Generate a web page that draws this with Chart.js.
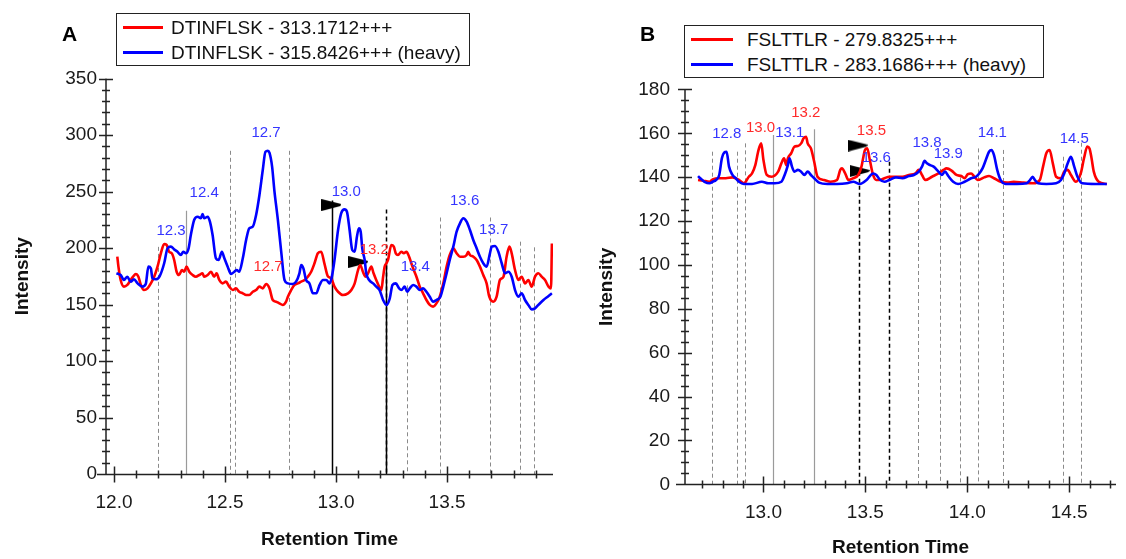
<!DOCTYPE html>
<html>
<head>
<meta charset="utf-8">
<script src="https://cdn.jsdelivr.net/npm/chart.js"></script>
<style>
  body { margin:0; width:1126px; height:559px; background:#fff; position:relative; overflow:hidden; font-family:'Liberation Sans', Arial, sans-serif; }
  canvas { position:absolute; top:0; }
  #cA { left:0; }
  #cB { left:563px; }
  .panel { position:absolute; font-weight:bold; font-size:21px; color:#000; }
  .legend { position:absolute; border:1px solid #222; background:#fff; font-size:19px; color:#111; box-sizing:border-box; padding-top:1px; }
  .legend div { position:relative; height:25px; line-height:25px; white-space:nowrap; }
  .legend span { position:absolute; top:11px; height:3px; }
</style>
</head>
<body>
<canvas id="cA" width="563" height="559"></canvas>
<canvas id="cB" width="563" height="559"></canvas>

<div class="panel" style="left:62px;top:22px;">A</div>
<div class="panel" style="left:640px;top:22px;">B</div>

<div class="legend" style="left:116px;top:13px;width:354px;height:53px;">
  <div style="padding-left:54px;"><span style="left:6px;width:40px;background:#ff0000;"></span>DTINFLSK - 313.1712+++</div>
  <div style="padding-left:54px;"><span style="left:6px;width:40px;background:#0000ff;"></span>DTINFLSK - 315.8426+++ (heavy)</div>
</div>
<div class="legend" style="left:684px;top:25px;width:360px;height:53px;">
  <div style="padding-left:62px;"><span style="left:6px;width:42px;background:#ff0000;"></span>FSLTTLR - 279.8325+++</div>
  <div style="padding-left:62px;"><span style="left:6px;width:42px;background:#0000ff;"></span>FSLTTLR - 283.1686+++ (heavy)</div>
</div>

<script>
// ---- panel A : DTINFLSK ----
// [retention time, intensity]
const aLight = [[12.015,192.3],[12.020,183.5],[12.030,171.7],[12.045,165.8],[12.060,167.3],[12.075,171.7],[12.086,174.6],[12.098,177],[12.110,174.6],[12.121,167.3],
  [12.135,162.8],[12.151,164.3],[12.166,168.7],[12.181,174.6],[12.196,183.5],[12.211,195.3],[12.226,203.5],[12.237,202.7],[12.248,196.7],[12.260,195.3],
  [12.271,189.4],[12.282,179],[12.293,176.1],[12.306,180.5],[12.316,179],[12.327,183.5],[12.339,179],[12.354,176.1],[12.369,174.6],[12.384,176.1],
  [12.399,177.6],[12.406,174.6],[12.422,176.1],[12.437,179],[12.451,174.6],[12.462,177.6],[12.474,171.7],[12.489,168.7],[12.504,170.2],[12.519,165.8],
  [12.535,162.8],[12.549,164.3],[12.564,161.3],[12.580,159.9],[12.595,158.4],[12.609,158.4],[12.625,161.3],[12.640,162.8],[12.655,165.8],[12.670,164.3],
  [12.685,168.1],[12.700,164.3],[12.715,154],[12.730,152.5],[12.745,151],[12.760,149.6],[12.775,152.5],[12.783,156.9],[12.798,162.8],[12.813,167.3],
  [12.828,168.7],[12.843,170.2],[12.858,171.7],[12.873,174.6],[12.888,179],[12.903,186.5],[12.918,195.3],[12.933,196.7],[12.948,186],[12.963,175],
  [12.978,173.2],[12.993,165.8],[13.009,161.3],[13.031,158.4],[13.054,159.9],[13.069,162.8],[13.084,168.7],[13.099,180.5],[13.109,185],[13.121,179],
  [13.133,174.6],[13.144,177.6],[13.159,183.5],[13.169,177.6],[13.181,171.7],[13.194,165.8],[13.204,162.8],[13.212,174.6],[13.219,183.5],[13.227,186.5],
  [13.234,189.4],[13.249,202.7],[13.260,201.2],[13.269,195.3],[13.279,193.8],[13.294,196.7],[13.305,195.3],[13.317,196.7],[13.329,192.3],[13.339,186.5],
  [13.350,180.5],[13.362,174.6],[13.377,165.8],[13.392,159.9],[13.407,154],[13.422,149.6],[13.437,148.1],[13.452,151],[13.467,156.9],[13.483,168.7],
  [13.498,183.5],[13.512,193.8],[13.528,199.7],[13.543,195.3],[13.558,192.3],[13.573,192.3],[13.588,193.8],[13.595,196.7],[13.603,193.8],[13.618,192.3],
  [13.633,189.4],[13.648,183.5],[13.663,176.1],[13.678,168.7],[13.690,156.9],[13.708,152.5],[13.723,156.9],[13.738,171.7],[13.754,174.6],[13.768,192.3],
  [13.781,201.2],[13.791,195.3],[13.806,180.5],[13.821,171.7],[13.836,174.6],[13.851,168.7],[13.866,171.7],[13.881,165.8],[13.896,174.6],[13.911,177.6],
  [13.926,174.6],[13.941,171.7],[13.957,165.8],[13.968,164.3],[13.972,204]];

const aHeavy = [[12.011,177.6],[12.030,176.1],[12.045,171.7],[12.060,174.6],[12.075,170.2],[12.090,172.3],[12.106,168.7],[12.128,165.8],[12.143,168.1],[12.155,183.5],
  [12.166,182],[12.173,173.2],[12.188,172.3],[12.206,175.2],[12.226,186.5],[12.241,199.7],[12.256,201.2],[12.271,198.8],[12.286,196.7],[12.301,193.8],
  [12.312,196.7],[12.324,195.3],[12.336,199.7],[12.346,211.5],[12.361,224.8],[12.377,227.7],[12.391,226.3],[12.399,230.1],[12.406,226.3],[12.422,227.7],
  [12.432,223.3],[12.444,211.5],[12.459,190.9],[12.471,189.4],[12.486,196.7],[12.497,190.9],[12.512,183.5],[12.527,177],[12.542,179],[12.553,180.5],
  [12.564,179],[12.580,190.9],[12.595,207],[12.609,217.4],[12.625,218.9],[12.640,229.2],[12.655,246.9],[12.670,269],[12.682,285.2],[12.693,286.1],
  [12.700,284.3],[12.712,272],[12.722,251.3],[12.738,224.8],[12.753,196.7],[12.768,171.7],[12.783,168.7],[12.805,168.1],[12.820,170.2],[12.835,177.6],
  [12.843,185],[12.853,182],[12.865,171.7],[12.880,168.7],[12.896,159.9],[12.911,159.9],[12.926,167.3],[12.941,171.7],[12.956,171.7],[12.971,168.7],
  [12.981,174.6],[12.993,189.4],[13.009,215.9],[13.023,230.7],[13.038,234.2],[13.049,232.1],[13.061,215.9],[13.073,198.2],[13.084,196.7],[13.094,210],
  [13.103,217.4],[13.111,214.4],[13.118,199.7],[13.129,189.4],[13.136,177.6],[13.149,171.7],[13.167,168.7],[13.181,165.8],[13.196,162.8],[13.212,154],
  [13.227,149.6],[13.242,155.5],[13.254,167.3],[13.269,168.7],[13.284,164.3],[13.294,162.8],[13.309,165.8],[13.320,161.3],[13.332,164.3],[13.347,167.3],
  [13.362,165.8],[13.377,162.8],[13.392,164.3],[13.407,161.3],[13.422,156.9],[13.437,152.5],[13.452,154],[13.470,156.9],[13.483,165.8],[13.498,177.6],
  [13.512,189.4],[13.528,201.2],[13.543,214.4],[13.558,221.8],[13.573,226.3],[13.588,223.3],[13.603,215.9],[13.618,207.1],[13.633,199.7],[13.648,192.3],
  [13.663,186.5],[13.678,183.5],[13.693,195.3],[13.701,201.2],[13.716,201.8],[13.731,196.7],[13.746,186.5],[13.761,177.6],[13.776,179],[13.791,174.6],
  [13.806,162.8],[13.821,156.9],[13.836,159.9],[13.851,154],[13.866,149.6],[13.881,145.7],[13.896,146.6],[13.911,149.6],[13.934,154],[13.957,157.5],
  [13.972,159.9]];

const aFlags = [[12.979,238],[13.100,187.6]];

// marker lines: time, top intensity, kind
const aMarkT    = [12.196, 12.324, 12.524, 12.544, 12.790, 12.981, 13.227, 13.227, 13.320, 13.470, 13.693, 13.828, 13.892];
const aMarkTop  = [201, 233, 286, 233, 286, 242, 234, 188, 167, 227, 227, 205.6, 200.6];
const aMarkKind = ['bound','window','bound','bound','bound','chosen','chosenEdge','chosen','bound','bound','bound','bound','bound'];

const aPeakText = ['12.3','12.4','12.7','12.7','13.0','13.2','13.4','13.6','13.7'];
const aPeakT    = [12.257, 12.406, 12.685, 12.694, 13.046, 13.172, 13.357, 13.579, 13.710];
const aPeakI    = [215, 248.7, 301.8, 183.2, 249.6, 198.2, 183.2, 241.6, 215.9];
const aPeakSer  = ['heavy','heavy','heavy','light','heavy','light','heavy','heavy','heavy'];

const aXTicks = [12.0, 12.5, 13.0, 13.5];
const aYTicks = [0, 50, 100, 150, 200, 250, 300, 350];

// ---- panel B : FSLTTLR ----
const bLight = [[12.679,138.7],[12.703,138.4],[12.735,137.9],[12.751,139],[12.783,139.5],[12.815,139.5],[12.848,139.9],[12.880,138.7],[12.904,137.2],[12.928,140.2],
  [12.944,141.7],[12.960,145.5],[12.976,152.4],[12.989,155.4],[13.000,147.8],[13.016,141],[13.040,140.2],[13.072,142.5],[13.088,146.3],[13.101,148.6],
  [13.112,145.5],[13.120,148.6],[13.136,150.9],[13.152,153.9],[13.169,154.2],[13.185,155.4],[13.197,157.7],[13.209,158.4],[13.217,155.4],[13.233,153.1],
  [13.249,147],[13.265,140.2],[13.297,138.7],[13.329,137.9],[13.361,138.7],[13.377,143.3],[13.385,144],[13.401,141.7],[13.417,138.7],[13.441,139.5],
  [13.465,141],[13.481,144.8],[13.489,148.6],[13.498,152.4],[13.509,153.1],[13.522,147.8],[13.538,141],[13.554,138.7],[13.570,138.7],[13.594,139.5],
  [13.618,140.2],[13.650,140.2],[13.682,140.2],[13.714,141],[13.746,141.7],[13.762,143.3],[13.778,141],[13.794,138.7],[13.827,140.2],[13.859,141.7],
  [13.883,143.3],[13.899,144],[13.923,143],[13.947,141],[13.971,140.5],[13.987,139.5],[14.003,141.4],[14.019,141.7],[14.035,140.2],[14.051,138.7],
  [14.083,139.9],[14.107,140.5],[14.131,139.5],[14.164,137.9],[14.196,137.5],[14.228,137.9],[14.276,137.5],[14.324,137.2],[14.356,138.7],[14.372,144.8],
  [14.388,150.9],[14.404,152.4],[14.420,146.3],[14.436,140.2],[14.460,139.5],[14.476,142.5],[14.493,143.3],[14.509,141],[14.533,137.9],[14.557,141.7],
  [14.573,148.6],[14.589,153.9],[14.600,153.1],[14.610,148.6],[14.621,142.5],[14.645,137.9],[14.685,136.9]];

const bHeavy = [[12.679,140.5],[12.690,139.5],[12.711,137.9],[12.735,137.2],[12.751,137.9],[12.767,138.7],[12.783,141],[12.796,148.6],[12.807,151.2],[12.819,151.6],
  [12.831,144.8],[12.848,141],[12.864,139.5],[12.880,137.9],[12.904,136.9],[12.944,136.9],[12.992,137.9],[13.024,137.2],[13.056,137.2],[13.088,137.9],
  [13.104,141],[13.120,145.5],[13.128,148.6],[13.140,144.8],[13.152,142.5],[13.169,143.3],[13.185,142.5],[13.201,141],[13.217,142.5],[13.233,141],
  [13.249,139.5],[13.273,137.5],[13.313,136.9],[13.361,136.9],[13.409,137.2],[13.441,137.9],[13.473,136.9],[13.506,138.7],[13.538,141.7],[13.554,141],
  [13.570,139],[13.594,137.9],[13.618,138.7],[13.650,139.9],[13.682,139.5],[13.714,140.5],[13.738,141],[13.762,142.5],[13.778,144.8],[13.791,147.4],
  [13.802,146.3],[13.818,145.5],[13.835,144.8],[13.859,142.5],[13.875,141],[13.891,142.5],[13.907,140.5],[13.931,137.9],[13.955,136.9],[13.987,137.9],
  [14.019,139.5],[14.043,140.2],[14.059,141.7],[14.075,144],[14.091,147.8],[14.107,151.6],[14.119,152.4],[14.131,150.1],[14.147,143.3],[14.164,138.7],
  [14.188,136.9],[14.244,136.9],[14.292,137.2],[14.308,138.7],[14.321,140.2],[14.332,138.7],[14.348,137.2],[14.388,136.9],[14.436,137.2],[14.460,138.7],
  [14.476,141.7],[14.493,146.3],[14.509,149.3],[14.525,144.8],[14.541,140.2],[14.565,137.2],[14.629,136.9],[14.685,136.9]];

const bFlags = [[13.462,154.4],[13.472,142.8]];

const bMarkT    = [12.748, 12.871, 12.909, 13.045, 13.249, 13.470, 13.615, 13.759, 13.867, 13.963, 14.054, 14.176, 14.468, 14.557];
const bMarkTop  = [151.6, 151.6, 155.4, 159.2, 161.8, 142.5, 147, 138.7, 147, 139.9, 153.1, 152.4, 149.3, 155.7];
const bMarkKind = ['bound','bound','bound','window','window','chosenEdge','chosenEdge','bound','bound','bound','bound','bound','bound','bound'];

const bPeakText = ['12.8','13.0','13.1','13.2','13.5','13.6','13.8','13.9','14.1','14.5'];
const bPeakT    = [12.820, 12.986, 13.129, 13.208, 13.530, 13.554, 13.803, 13.907, 14.123, 14.525];
const bPeakI    = [159.7, 162.6, 160.3, 169.5, 161, 149, 155.8, 150.5, 160.3, 157.5];
const bPeakSer  = ['heavy','light','heavy','light','light','heavy','heavy','heavy','heavy','heavy'];

const bXTicks = [13.0, 13.5, 14.0, 14.5];
const bYTicks = [0, 20, 40, 60, 80, 100, 120, 140, 160, 180];

// ---- drawing ----
const FONT = "'Liberation Sans', Arial, sans-serif";
const serColor = { light: '#ff2a2a', heavy: '#3535ff' };
const markStyle = {
  bound:      { color: '#8a8a8a', dash: [4, 3], width: 1 },
  window:     { color: '#9a9a9a', dash: [],     width: 1.2 },
  chosen:     { color: '#000000', dash: [],     width: 1.5 },
  chosenEdge: { color: '#000000', dash: [4, 3], width: 1.5 }
};

const toXY = pairs => pairs.map(p => ({ x: p[0], y: p[1] }));

// little black flag used for the chosen peak
const flag = document.createElement('canvas');
flag.width = 20; flag.height = 12;
(function () {
  const c = flag.getContext('2d');
  c.fillStyle = '#000';
  c.beginPath(); c.moveTo(0, 0); c.lineTo(20, 5); c.lineTo(19, 7); c.lineTo(0, 12); c.closePath(); c.fill();
})();

const marksPlugin = {
  id: 'marks',
  beforeDatasetsDraw(chart, args, o) {
    const { ctx, scales: { x, y } } = chart;
    const y0 = y.getPixelForValue(0);
    ctx.save();
    o.t.forEach((t, i) => {
      const st = markStyle[o.kind[i]];
      const px = Math.round(x.getPixelForValue(t)) + 0.5;
      ctx.strokeStyle = st.color;
      ctx.lineWidth = st.width;
      ctx.setLineDash(st.dash);
      ctx.beginPath();
      ctx.moveTo(px, y.getPixelForValue(o.top[i]));
      ctx.lineTo(px, y0);
      ctx.stroke();
    });
    ctx.restore();
  },
  afterDatasetsDraw(chart, args, o) {
    const { ctx, scales: { x, y } } = chart;
    ctx.save();
    ctx.font = '15px ' + FONT;
    ctx.textAlign = 'center';
    ctx.textBaseline = 'middle';
    o.text.forEach((s, i) => {
      ctx.fillStyle = serColor[o.ser[i]];
      ctx.fillText(s, x.getPixelForValue(o.pt[i]), y.getPixelForValue(o.pi[i]));
    });
    ctx.restore();
  }
};

// axis lines with ticks crossing the axis, like the original software
const axesPlugin = {
  id: 'axes',
  afterDraw(chart, args, o) {
    const { ctx, scales: { x, y } } = chart;
    const x0 = x.left, y0 = Math.round(y.getPixelForValue(0)) + 0.5;
    ctx.save();
    ctx.strokeStyle = '#222';
    ctx.lineWidth = 1.5;
    ctx.beginPath();
    ctx.moveTo(x0 - o.ext, y0); ctx.lineTo(x.right, y0);
    ctx.moveTo(x0, y0); ctx.lineTo(x0, y.top);
    const yPer = Math.round(o.yMajor / o.yMinor);
    for (let i = 0; i * o.yMinor <= y.max + 1e-9; i++) {
      const p = Math.round(y.getPixelForValue(i * o.yMinor)) + 0.5;
      const h = i % yPer === 0 ? 7 : 4;
      ctx.moveTo(x0 - h, p); ctx.lineTo(x0 + h, p);
    }
    const xPer = Math.round(o.xMajor / o.xMinor);
    for (let i = Math.ceil(x.min / o.xMinor - 1e-9); i * o.xMinor <= x.max + 1e-9; i++) {
      const p = Math.round(x.getPixelForValue(i * o.xMinor)) + 0.5;
      const h = i % xPer === 0 ? 8 : 4;
      ctx.moveTo(p, y0 - h); ctx.lineTo(p, y0 + h);
    }
    ctx.stroke();
    ctx.restore();
  }
};

function makeChart(id, d) {
  const tickFont = { family: FONT, size: 19 };
  const titleFont = { family: FONT, size: 19, weight: 'bold' };
  return new Chart(document.getElementById(id), {
    type: 'line',
    data: {
      datasets: [
        { label: d.names[1], data: toXY(d.heavy), borderColor: '#0000ff', borderWidth: 2.6, pointRadius: 0, cubicInterpolationMode: 'monotone' },
        { label: d.names[0], data: toXY(d.light), borderColor: '#ff0000', borderWidth: 2.6, pointRadius: 0, cubicInterpolationMode: 'monotone' },
        { type: 'scatter', label: 'chosen', data: toXY(d.flags), pointStyle: flag, pointRadius: 9, showLine: false }
      ]
    },
    options: {
      responsive: false,
      animation: false,
      events: [],
      layout: { padding: d.pad },
      plugins: {
        legend: { display: false },
        tooltip: { enabled: false },
        marks: { t: d.markT, top: d.markTop, kind: d.markKind, text: d.peakText, pt: d.peakT, pi: d.peakI, ser: d.peakSer },
        axes: { ext: 9, yMinor: d.yMinor, yMajor: d.yMajor, xMinor: 0.1, xMajor: 0.5 }
      },
      scales: {
        x: {
          type: 'linear', min: d.xMin, max: d.xMax,
          grid: { display: false, drawTicks: false }, border: { display: false },
          afterBuildTicks: s => { s.ticks = d.xTicks.map(v => ({ value: v })); },
          afterFit: s => { s.height = d.xH; },
          ticks: { font: tickFont, color: '#1a1a1a', padding: 17, maxRotation: 0, autoSkip: false, callback: v => v.toFixed(1) },
          title: { display: true, text: 'Retention Time', font: titleFont, color: '#111', padding: { top: 0, bottom: d.xTitlePad } }
        },
        y: {
          type: 'linear', min: 0, max: d.yMax,
          grid: { display: false, drawTicks: false }, border: { display: false },
          afterBuildTicks: s => { s.ticks = d.yTicks.map(v => ({ value: v })); },
          afterFit: s => { s.width = d.yW; },
          ticks: { font: tickFont, color: '#1a1a1a', padding: d.yTickPad, autoSkip: false },
          title: { display: true, text: 'Intensity', font: titleFont, color: '#111', padding: { top: d.yTitlePad, bottom: 0 } }
        }
      }
    },
    plugins: [marksPlugin, axesPlugin]
  });
}

makeChart('cA', {
  names: ['DTINFLSK - 313.1712+++', 'DTINFLSK - 315.8426+++ (heavy)'],
  light: aLight, heavy: aHeavy, flags: aFlags,
  markT: aMarkT, markTop: aMarkTop, markKind: aMarkKind,
  peakText: aPeakText, peakT: aPeakT, peakI: aPeakI, peakSer: aPeakSer,
  xTicks: aXTicks, yTicks: aYTicks,
  xMin: 11.964, xMax: 13.977, yMax: 350, yMinor: 10, yMajor: 50,
  pad: { left: 0, right: 7, top: 78.5, bottom: 0 },
  xH: 85, yW: 106, xTitlePad: 8, yTitlePad: 11, yTickPad: 9
});

makeChart('cB', {
  names: ['FSLTTLR - 279.8325+++', 'FSLTTLR - 283.1686+++ (heavy)'],
  light: bLight, heavy: bHeavy, flags: bFlags,
  markT: bMarkT, markTop: bMarkTop, markKind: bMarkKind,
  peakText: bPeakText, peakT: bPeakT, peakI: bPeakI, peakSer: bPeakSer,
  xTicks: bXTicks, yTicks: bYTicks,
  xMin: 12.615, xMax: 14.73, yMax: 180, yMinor: 5, yMajor: 20,
  pad: { left: 0, right: 2, top: 89.4, bottom: 0 },
  xH: 74.7, yW: 122, xTitlePad: 0, yTitlePad: 32, yTickPad: 15
});
</script>
</body>
</html>
